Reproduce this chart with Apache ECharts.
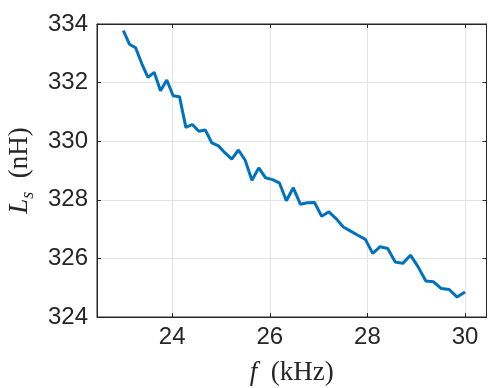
<!DOCTYPE html>
<html>
<head>
<meta charset="utf-8">
<script src="https://cdn.jsdelivr.net/npm/echarts@6/dist/echarts.min.js"></script>
<style>html,body{margin:0;padding:0;background:#fff}#c{width:488px;height:388px}</style>
</head>
<body>
<div id="c"></div>
<script>
const freq = [23.000,23.125,23.251,23.377,23.504,23.632,23.761,23.890,24.020,24.150,
  24.281,24.413,24.546,24.680,24.814,24.949,25.084,25.221,25.358,25.496,
  25.634,25.774,25.914,26.055,26.196,26.339,26.482,26.626,26.771,26.916,
  27.063,27.210,27.358,27.506,27.656,27.806,27.958,28.109,28.262,28.416,
  28.570,28.726,28.882,29.039,29.197,29.356,29.515,29.676,29.837,30.000];
const ls = [333.77,333.31,333.19,332.65,332.18,332.35,331.72,332.09,331.55,331.52,
  330.47,330.57,330.34,330.38,329.94,329.84,329.60,329.39,329.70,329.35,
  328.67,329.09,328.75,328.69,328.58,327.97,328.41,327.85,327.90,327.91,
  327.44,327.59,327.36,327.07,326.93,326.79,326.65,326.17,326.40,326.34,
  325.88,325.83,326.11,325.71,325.23,325.20,324.97,324.94,324.68,324.85];
const xTicks = [24,26,28,30];
const yTicks = [324,326,328,330,332,334];

const axisCol = '#262626';
const gridCol = '#e3e3e3';
const labelFont = {fontFamily:'Liberation Sans, Arial, sans-serif', fontSize:24, color:axisCol};
const serif = 'Liberation Serif, serif';

const chart = echarts.init(document.getElementById('c'), null, {renderer:'canvas'});
chart.setOption({
  animation:false,
  grid:{left:97, top:24, right:1.5, bottom:71, outerBoundsMode:'none', containLabel:false,
    show:true, borderColor:axisCol, borderWidth:1, backgroundColor:'transparent'},
  xAxis:[{
    type:'value', min:22.46, max:30.44,
    axisLine:{show:true, onZero:false, lineStyle:{color:axisCol, width:1}},
    axisTick:{show:true, inside:true, length:4, customValues:xTicks, lineStyle:{color:axisCol}},
    axisLabel:{show:true, customValues:xTicks, margin:8, ...labelFont},
    splitLine:{show:true, lineStyle:{color:gridCol, width:1}},
    name:'{i|f}  (kHz)', nameLocation:'middle', nameGap:42,
    nameTextStyle:{fontFamily:serif, fontSize:27, color:axisCol,
      rich:{i:{fontFamily:serif, fontStyle:'italic', fontSize:27, color:axisCol}}}
  },{
    type:'value', position:'top', min:22.46, max:30.44,
    axisLine:{show:true, onZero:false, lineStyle:{color:axisCol, width:1}},
    axisTick:{show:true, inside:true, length:4, customValues:xTicks, lineStyle:{color:axisCol}},
    axisLabel:{show:false}, splitLine:{show:false}
  }],
  yAxis:[{
    type:'value', min:324, max:334, interval:2,
    axisLine:{show:true, onZero:false, lineStyle:{color:axisCol, width:1}},
    axisTick:{show:true, inside:true, length:4, lineStyle:{color:axisCol}},
    axisLabel:{show:true, margin:9, ...labelFont,
      formatter:(v)=> yTicks.includes(v) ? String(v) : ''},
    splitLine:{show:true, lineStyle:{color:gridCol, width:1}},
    name:'{i|L}{s|s}  (nH)', nameLocation:'middle', nameGap:58,
    nameTextStyle:{fontFamily:serif, fontSize:27, color:axisCol,
      rich:{
        i:{fontFamily:serif, fontStyle:'italic', fontSize:27, color:axisCol, lineHeight:34},
        s:{fontFamily:serif, fontStyle:'italic', fontSize:18, color:axisCol, verticalAlign:'bottom', lineHeight:34}
      }}
  },{
    type:'value', position:'right', min:324, max:334, interval:2,
    axisLine:{show:true, onZero:false, lineStyle:{color:axisCol, width:1}},
    axisTick:{show:true, inside:true, length:4, lineStyle:{color:axisCol}},
    axisLabel:{show:false}, splitLine:{show:false}
  }],
  series:[{
    type:'line', xAxisIndex:0, yAxisIndex:0,
    data: freq.map((f,i)=>[f, ls[i]]),
    showSymbol:false, symbol:'none',
    lineStyle:{color:'#0072BD', width:3},
    itemStyle:{color:'#0072BD'}
  }]
});
</script>
</body>
</html>
